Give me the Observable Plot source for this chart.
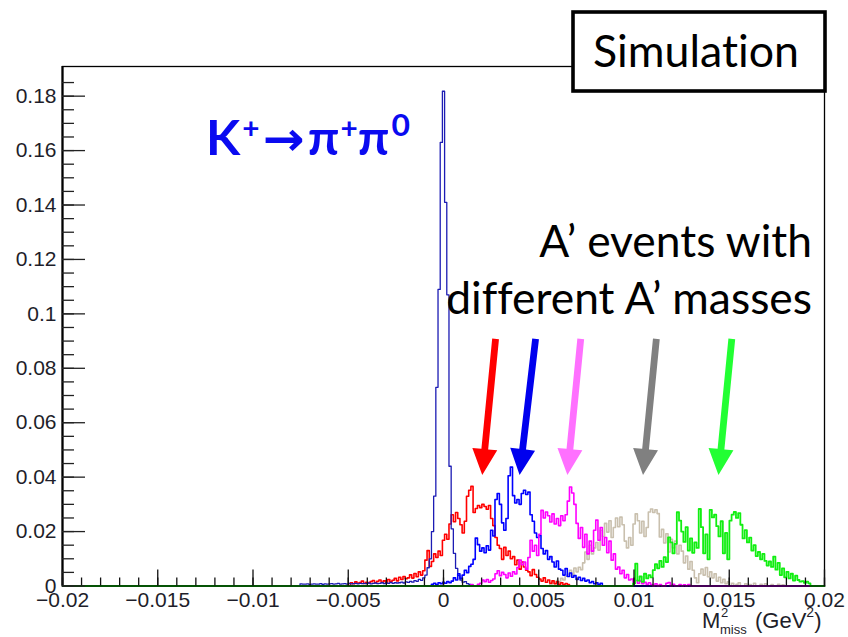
<!DOCTYPE html>
<html>
<head>
<meta charset="utf-8">
<script src="https://cdn.jsdelivr.net/npm/d3@7"></script>
<script src="https://cdn.jsdelivr.net/npm/@observablehq/plot@0.6"></script>
<style>
  body { margin: 0; background: #fff; }
  #chart { width: 848px; height: 637px; }
</style>
</head>
<body>
<div id="chart"></div>
<script>
// Missing-mass-squared histograms (fraction of events per bin), bin width in GeV^2.
const BIN = 0.000115;

// Axis ticks
const xMajor = [-0.02, -0.015, -0.01, -0.005, 0, 0.005, 0.01, 0.015, 0.02];
const xLabels = ["\u22120.02", "\u22120.015", "\u22120.01", "\u22120.005", "0", "0.005", "0.01", "0.015", "0.02"];
const yMajor = [0, 0.02, 0.04, 0.06, 0.08, 0.1, 0.12, 0.14, 0.16, 0.18];
const yLabels = ["0", "0.02", "0.04", "0.06", "0.08", "0.1", "0.12", "0.14", "0.16", "0.18"];
const xMinor = d3.range(-20, 21).map(i => i / 1000);
const yMinor = d3.range(0, 38).map(i => i * 0.005);

// K+ -> pi+ pi0 background (first bin index, then contents)
const kpipiStart = -65;
const kpipi = [
  0.0008,0.0007,0.0007,0.0008,0.0006,0.0007,0.0008,0.0007,0.0007,0.0009,0.0006,0.0008,0.0007,0.0008,0.0009,
  0.0007,0.0008,0.0010,0.0007,0.0008,0.0009,0.0007,0.0010,0.0008,0.0009,0.0010,0.0008,0.0010,0.0009,0.0010,
  0.0009,0.0011,0.0008,0.0010,0.0011,0.0009,0.0010,0.0012,0.0009,0.0011,0.0010,0.0013,0.0010,0.0012,0.0011,
  0.0012,0.0014,0.0011,0.0015,0.0013,0.0017,0.0014,0.0020,0.0017,
  0.0024,0.0021,0.0030,0.0040,0.0067,0.0100,0.0200,0.0330,0.0730,0.1090,0.1630,0.1818,0.1410,0.1070,0.0440,
  0.0210,0.0120,0.0065,0.0038,0.0022,0.0014,0.0016,0.0009,0.0006,0.0004
];

// A' signal samples, lightest to heaviest
const aRedStart = -42;
const aRed = [
  0.0012,0.0008,0.0015,0.0010,0.0013,0.0018,0.0009,0.0014,0.0011,0.0016,0.0020,0.0012,0.0017,0.0022,0.0014,0.0019,0.0013,0.0024,0.0016,0.0021,
  0.0028,0.0019,0.0032,0.0024,0.0035,0.0027,0.0030,0.0041,0.0029,0.0046,0.0034,0.0052,0.0040,0.0056,
  0.0095,0.0130,0.0072,0.0090,0.0118,0.0105,0.0128,0.0112,
  0.0168,0.0190,0.0172,0.0228,0.0262,0.0236,0.0270,0.0248,0.0225,0.0195,0.0238,
  0.0330,0.0352,0.0366,0.0270,0.0285,0.0296,0.0288,0.0300,0.0292,0.0282,0.0296,
  0.0248,0.0222,0.0178,0.0150,0.0138,0.0098,0.0142,0.0112,0.0128,0.0100,
  0.0108,0.0078,0.0095,0.0062,0.0088,0.0070,0.0058,0.0052,0.0038,0.0060,0.0042,0.0032,
  0.0026,0.0018,0.0030,0.0014,0.0022,0.0010,0.0019,0.0008,0.0015,0.0006,0.0012,0.0004,0.0009,0.0005
];

const aBlueStart = -5;
const aBlue = [
  0.0006,0.0010,0.0004,0.0012,0.0008,0.0014,0.0010,0.0016,0.0012,0.0018,
  0.0030,0.0022,0.0045,0.0028,0.0040,0.0058,0.0049,0.0072,0.0080,
  0.0098,0.0176,0.0152,0.0128,0.0140,0.0122,0.0148,0.0132,0.0205,0.0184,
  0.0318,0.0340,0.0300,0.0232,0.0205,0.0248,0.0405,0.0437,
  0.0332,0.0305,0.0318,0.0300,0.0340,0.0352,0.0336,0.0345,0.0262,0.0238,
  0.0195,0.0178,0.0186,0.0138,0.0118,0.0130,0.0098,0.0108,0.0088,0.0070,0.0092,0.0062,
  0.0058,0.0040,0.0064,0.0035,0.0048,0.0032,0.0038,0.0024,0.0032,0.0020,0.0028,0.0018,0.0022,0.0012,0.0016,0.0008,0.0012,0.0005,0.0010
];

const aMagentaStart = 13;
const aMagenta = [
  0.0005,0,0,0.0006,0.0010,0.0022,0.0016,0.0024,0.0014,0.0020,0.0026,
  0.0045,0.0056,0.0038,0.0050,0.0042,0.0030,0.0048,0.0036,0.0052,0.0044,
  0.0068,0.0095,0.0078,0.0088,0.0062,0.0105,0.0168,0.0128,0.0150,0.0112,
  0.0190,0.0278,0.0250,0.0272,0.0258,0.0235,0.0265,0.0228,0.0248,0.0222,0.0258,0.0240,0.0262,
  0.0312,0.0364,0.0342,0.0300,0.0230,0.0175,0.0215,0.0142,0.0190,0.0118,0.0165,0.0128,
  0.0205,0.0242,0.0168,0.0215,0.0150,0.0178,0.0122,0.0165,0.0095,0.0118,0.0062,
  0.0070,0.0045,0.0058,0.0030,0.0042,0.0022,0.0026,0.0014,0.0020,0.0010,0.0018,0.0008,0.0014,0.0006,0.0012,0.0005,
  0,0.0008,0,0.0005,0,0,0.0010,0.0013,0,0.0006,0,0,0.0005,0,0.0004,0,0.0005
];

const aTanStart = 49;
const aTan = [
  0.0005,0.0012,0.0008,0.0020,0.0015,0.0028,0.0022,0.0036,
  0.0042,0.0058,0.0040,0.0066,0.0052,0.0069,0.0060,
  0.0085,0.0125,0.0098,0.0150,0.0118,0.0140,
  0.0160,0.0132,0.0205,0.0182,0.0230,0.0198,
  0.0240,0.0178,0.0215,0.0250,0.0218,0.0253,0.0225,
  0.0165,0.0140,0.0178,0.0150,0.0228,0.0265,0.0240,
  0.0195,0.0238,0.0182,0.0215,0.0272,0.0283,0.0270,0.0280,0.0266,
  0.0180,0.0208,0.0158,0.0192,0.0125,0.0172,0.0140,0.0165,0.0118,0.0150,
  0.0128,0.0085,0.0110,0.0062,0.0090,0.0058,0.0030,0.0012,0.0045,
  0.0062,0.0040,0.0068,0.0034,0.0052,0.0030,0.0045,0.0018,0.0032,0.0012,0.0025,0.0008,0.0015,
  0,0.0010,0,0.0006,0.0012,0,0,0.0008,0,0.0005,0,0.0010,0,0,0.0006,0,0.0008,0,0,0.0005,0,0,0.0006,0,0.0004
];

const aGreenStart = 87;
const aGreen = [
  0.0010,0.0082,0.0020,0.0035,0.0015,0.0045,0.0028,0.0040,0.0032,
  0.0058,0.0080,0.0065,0.0092,0.0070,0.0106,0.0088,
  0.0179,0.0160,0.0120,0.0155,0.0271,0.0240,
  0.0200,0.0162,0.0216,0.0130,0.0175,0.0122,0.0160,0.0140,
  0.0283,0.0216,0.0120,0.0190,0.0098,0.0280,0.0252,0.0262,
  0.0220,0.0182,0.0238,0.0120,0.0195,0.0098,0.0240,0.0262,
  0.0272,0.0250,0.0268,0.0225,0.0175,0.0205,0.0160,0.0178,0.0130,0.0150,0.0110,
  0.0125,0.0098,0.0118,0.0092,0.0075,0.0090,0.0070,0.0108,0.0060,0.0085,0.0040,0.0065,0.0032,
  0.0052,0.0028,0.0045,0.0020,0.0038,0.0022,0.0016,0.0018,0.0012,0.0016,0.0010
];

// Pointer arrows for the A' samples (tail -> tip, in axis units)
const arrowTailX = [0.00276, 0.00486, 0.00723, 0.01120, 0.01516];
const arrowTipX  = [0.00206, 0.00402, 0.00653, 0.01050, 0.01446];
const arrowTailY = 0.0906;
const arrowTipY  = 0.0406;
const arrowColors = ["#ff0000", "#0000ee", "#ff70ff", "#808080", "#22ff33"];

// Histogram outline: flat zero line across the axis, step up into each filled bin.
function outline(start, counts) {
  const pts = [{x: -0.02, y: 0}];
  counts.forEach((c, i) => pts.push({x: (start + i - 0.5) * BIN, y: c}));
  pts.push({x: (start + counts.length - 0.5) * BIN, y: 0});
  pts.push({x: 0.02, y: 0});
  return pts;
}

const histos = [
  {pts: outline(aTanStart, aTan), color: "#c9c0ae", w: 1.6},
  {pts: outline(aRedStart, aRed), color: "#ff0000", w: 1.6},
  {pts: outline(kpipiStart, kpipi), color: "#1c1cb4", w: 1.3},
  {pts: outline(aBlueStart, aBlue), color: "#0000ff", w: 1.6},
  {pts: outline(aMagentaStart, aMagenta), color: "#ff00ff", w: 1.6},
  {pts: outline(aGreenStart, aGreen), color: "#11ee11", w: 1.8}
];

const arrows = arrowColors.map((c, i) => ({
  x1: arrowTailX[i], y1: arrowTailY, x2: arrowTipX[i], y2: arrowTipY, color: c
}));

const tickFont = "'Liberation Sans', Arial, sans-serif";

const chart = Plot.plot({
  width: 848,
  height: 637,
  marginLeft: 62,
  marginRight: 24,
  marginTop: 66,
  marginBottom: 51.5,
  x: {domain: [-0.02, 0.02], axis: null},
  y: {domain: [0, 0.1909], axis: null},
  style: {background: "#ffffff", overflow: "visible"},
  marks: [
    ...histos.map(h => Plot.line(h.pts, {
      x: "x", y: "y", curve: "step-after", stroke: h.color, strokeWidth: h.w
    })),
    Plot.frame({stroke: "#000", strokeWidth: 1.3}),
    Plot.ruleX([-0.02], {stroke: "#000", strokeWidth: 2.2}),
    // inward ticks on the x axis
    Plot.ruleX(xMinor, {x: d => d, y1: 0, y2: 0, insetTop: -8, stroke: "#111", strokeWidth: 1.3}),
    Plot.ruleX(xMajor, {x: d => d, y1: 0, y2: 0, insetTop: -16, stroke: "#111", strokeWidth: 1.3}),
    // inward ticks on the y axis
    Plot.ruleY(yMinor, {y: d => d, x1: -0.02, x2: -0.02, insetRight: -12, stroke: "#222", strokeWidth: 1.3}),
    Plot.ruleY(yMajor, {y: d => d, x1: -0.02, x2: -0.02, insetRight: -23, stroke: "#222", strokeWidth: 1.3}),
    Plot.text(xMajor, {x: d => d, y: 0, text: (d, i) => xLabels[i], dy: 14,
      fontSize: 21, fontFamily: tickFont, fill: "#1e1e2a"}),
    Plot.text(yMajor, {x: -0.02, y: d => d, text: (d, i) => yLabels[i], dx: -6, textAnchor: "end",
      fontSize: 21, fontFamily: tickFont, fill: "#1e1e2a"}),
    // arrows: thick shaft with a filled triangular head
    Plot.link(arrows, {
      x1: "x1", y1: "y1", x2: "x2", y2: "y2",
      render: (index, scales, values) => {
        const g = d3.create("svg:g");
        for (const i of index) {
          const ax = values.x1[i], ay = values.y1[i], bx = values.x2[i], by = values.y2[i];
          const L = Math.hypot(bx - ax, by - ay);
          const ux = (bx - ax) / L, uy = (by - ay) / L;
          const nx = -uy, ny = ux;
          const sw = 3.4, hw = 12.5, hl = 26;
          const hx = bx - ux * hl, hy = by - uy * hl;
          const p = [
            [ax + nx * sw, ay + ny * sw], [hx + nx * sw, hy + ny * sw], [hx + nx * hw, hy + ny * hw],
            [bx, by],
            [hx - nx * hw, hy - ny * hw], [hx - nx * sw, hy - ny * sw], [ax - nx * sw, ay - ny * sw]
          ];
          g.append("path").attr("d", "M" + p.map(q => q.join(",")).join("L") + "Z")
            .attr("fill", arrows[i].color);
        }
        return g.node();
      }
    })
  ]
});

document.getElementById("chart").appendChild(chart);

const svg = d3.select(chart);
const sans = "Lato, 'Open Sans', 'DejaVu Sans', sans-serif";

// fit a text element's font size so it spans the given width
function fitWidth(sel, width) {
  const fs = +sel.attr("font-size");
  const w = sel.node().getComputedTextLength();
  sel.attr("font-size", (fs * width / w).toFixed(2));
  return fs * width / w;
}

// x-axis title: M^2_miss (GeV^2)
const xt = svg.append("g").attr("font-family", tickFont).attr("fill", "#1e1e2a").attr("text-anchor", "start");
xt.append("text").attr("x", 702).attr("y", 628).attr("font-size", 22).text("M");
xt.append("text").attr("x", 721).attr("y", 617).attr("font-size", 13).text("2");
xt.append("text").attr("x", 720).attr("y", 634).attr("font-size", 13).text("miss");
const gev = xt.append("text").attr("x", 755).attr("y", 628).attr("font-size", 22);
gev.append("tspan").text("(GeV");
gev.append("tspan").attr("font-size", 14).attr("dy", -11).text("2");
gev.append("tspan").attr("dy", 11).text(")");

// "Simulation" label box
svg.append("rect").attr("x", 573).attr("y", 12).attr("width", 252).attr("height", 79)
  .attr("fill", "#fff").attr("stroke", "#000").attr("stroke-width", 3.6);
const sim = svg.append("text").attr("x", 696).attr("y", 67).attr("text-anchor", "middle")
  .attr("font-family", sans).attr("font-size", 46).attr("fill", "#000")
  .style("font-variant-ligatures", "none").text("Simulation");
fitWidth(sim, 206);

// signal annotation
const l2 = svg.append("text").attr("x", 812).attr("y", 314).attr("text-anchor", "end")
  .attr("font-family", sans).attr("font-size", 43).attr("fill", "#000")
  .style("font-variant-ligatures", "none").text("different A\u2019 masses");
const fsA = fitWidth(l2, 366);
svg.append("text").attr("x", 812).attr("y", 257).attr("text-anchor", "end")
  .attr("font-family", sans).attr("font-size", fsA.toFixed(2)).attr("fill", "#000").text("A\u2019 events with");

// decay label K+ -> pi+ pi0, stretched to its printed width
const fg = svg.append("g");
const f = fg.append("text").attr("x", 0).attr("y", 0).attr("text-anchor", "start")
  .attr("font-family", sans).attr("font-weight", "bold").attr("font-size", 47).attr("fill", "#0a0af0");
f.append("tspan").text("K");
f.append("tspan").attr("font-size", 28).attr("dy", -17).attr("dx", 2).text("+");
f.append("tspan").attr("dy", 17).attr("dx", 3).attr("font-family", "'DejaVu Sans', sans-serif").text("\u2192");
f.append("tspan").attr("dx", 3).text("\u03c0");
f.append("tspan").attr("font-size", 28).attr("dy", -17).attr("dx", 1).text("+");
f.append("tspan").attr("dy", 17).text("\u03c0");
f.append("tspan").attr("font-size", 30).attr("dy", -19).attr("dx", 2).text("0");
const fb = f.node().getBBox();
const sx = 204 / fb.width;
fg.attr("transform", `translate(${206 - fb.x * sx},155) scale(${sx.toFixed(3)},1)`);
</script>
</body>
</html>
